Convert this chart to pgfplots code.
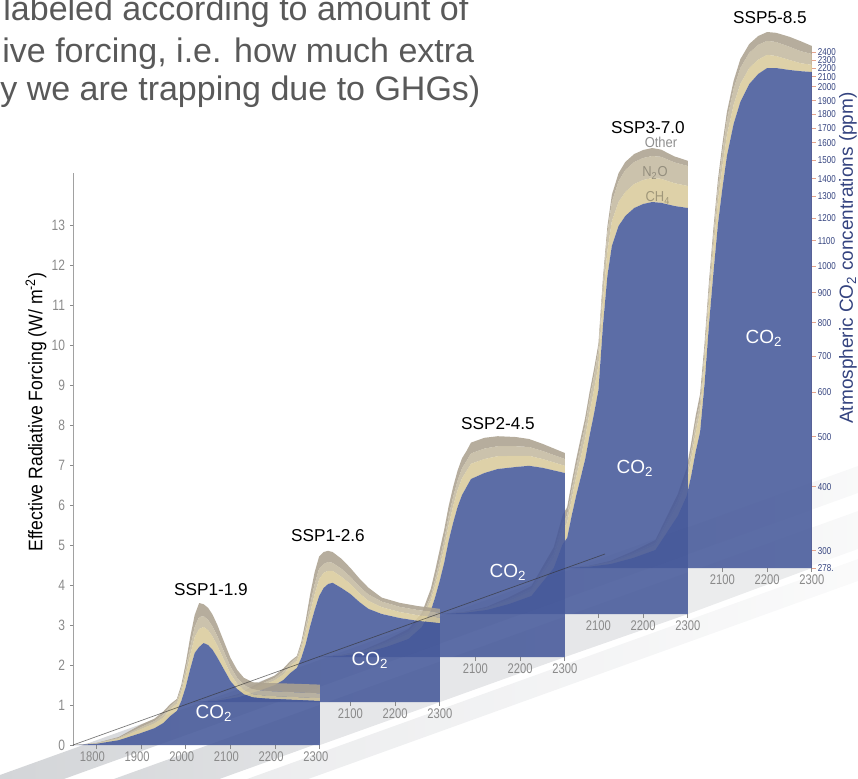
\documentclass[border=0pt]{standalone}
\usepackage{pgfplots}
\pgfplotsset{compat=1.18}
\usepackage{pgfplotstable}
\usepackage{fontspec}
\setmainfont{Liberation Sans}
\newfontfamily\narrow[FakeStretch=0.8]{Liberation Sans}
\newfontfamily\semi[FakeStretch=0.9]{Liberation Sans}

\definecolor{coblue}{HTML}{46599A}
\definecolor{chtan}{HTML}{D9CB9C}
\definecolor{ntwo}{HTML}{C4BAA0}
\definecolor{othr}{HTML}{ACA290}
\definecolor{tickgrey}{HTML}{8A8A8A}
\definecolor{titlegrey}{HTML}{595959}
\definecolor{navy}{HTML}{34437F}
\definecolor{ppmtick}{HTML}{E5A48C}
\definecolor{floorA}{HTML}{E6E7E9}
\definecolor{floorB}{HTML}{D3D5D8}
\definecolor{otherlab}{HTML}{8F8F8F}
\definecolor{ntwolab}{HTML}{948E7E}
\definecolor{chlab}{HTML}{A0977A}

% layers: CO2 and the thickness of the CH4, N2O and other bands (W m-2)
\pgfplotstableread{
year co2 ch4 n2o oth
1750 0 0 0 0
1800 0.03 0.01 0.005 0.005
1850 0.12 0.04 0.02 0.02
1900 0.3 0.1 0.05 0.06
1930 0.42 0.12 0.06 0.06
1950 0.55 0.14 0.07 0.08
1965 0.72 0.17 0.08 0.05
1980 0.85 0.18 0.08 0.04
1990 1.1 0.22 0.1 0.08
2000 1.45 0.3 0.15 0.15
2010 1.9 0.35 0.2 0.25
2020 2.3 0.4 0.25 0.3
2030 2.45 0.45 0.3 0.35
2040 2.55 0.4 0.27 0.3
2050 2.5 0.37 0.26 0.3
2060 2.38 0.33 0.25 0.3
2070 2.2 0.3 0.24 0.28
2080 2.0 0.26 0.22 0.26
2090 1.8 0.22 0.2 0.24
2100 1.6 0.18 0.18 0.22
2115 1.4 0.13 0.15 0.2
2130 1.27 0.1 0.13 0.18
2150 1.19 0.08 0.12 0.18
2180 1.16 0.07 0.12 0.2
2220 1.14 0.07 0.12 0.21
2300 1.1 0.07 0.12 0.22
}\sspA

\pgfplotstableread{
year co2 ch4 n2o oth
1750 0 0 0 0
1800 0.03 0.01 0.005 0.005
1850 0.12 0.04 0.02 0.02
1900 0.3 0.1 0.05 0.06
1930 0.42 0.12 0.06 0.06
1950 0.55 0.14 0.07 0.08
1965 0.72 0.17 0.08 0.05
1980 0.85 0.18 0.08 0.04
1990 1.1 0.22 0.1 0.08
2000 1.45 0.3 0.15 0.15
2010 1.9 0.35 0.2 0.25
2020 2.3 0.4 0.25 0.3
2030 2.65 0.42 0.27 0.3
2040 2.85 0.38 0.22 0.3
2050 2.95 0.33 0.22 0.28
2060 2.98 0.3 0.2 0.27
2080 2.85 0.28 0.2 0.25
2100 2.7 0.25 0.18 0.22
2120 2.5 0.22 0.17 0.2
2140 2.33 0.2 0.16 0.17
2170 2.2 0.17 0.14 0.1
2210 2.1 0.15 0.13 0.1
2250 2.03 0.14 0.13 0.1
2300 1.97 0.14 0.12 0.1
}\sspB

\pgfplotstableread{
year co2 ch4 n2o oth
1750 0 0 0 0
1800 0.03 0.01 0.005 0.005
1850 0.1 0.04 0.02 0.02
1900 0.25 0.08 0.04 0.05
1950 0.45 0.12 0.06 0.07
1980 0.75 0.17 0.08 0.1
2000 1.15 0.25 0.12 0.18
2010 1.5 0.3 0.15 0.22
2020 1.9 0.35 0.18 0.25
2030 2.35 0.38 0.2 0.25
2040 2.9 0.4 0.22 0.25
2050 3.35 0.42 0.23 0.25
2060 3.75 0.42 0.24 0.25
2070 4.05 0.42 0.25 0.25
2080 4.25 0.4 0.25 0.25
2090 4.45 0.38 0.26 0.27
2100 4.5 0.37 0.26 0.27
2120 4.6 0.35 0.26 0.27
2150 4.7 0.32 0.25 0.25
2190 4.75 0.28 0.24 0.23
2220 4.78 0.25 0.22 0.2
2250 4.73 0.22 0.2 0.18
2300 4.6 0.18 0.17 0.15
}\sspC

\pgfplotstableread{
year co2 ch4 n2o oth
1750 0 0 0 0
1800 0.03 0.01 0.005 0.005
1850 0.1 0.04 0.02 0.02
1900 0.25 0.08 0.04 0.05
1950 0.45 0.12 0.06 0.07
2000 1.15 0.25 0.12 0.15
2020 1.75 0.35 0.18 0.2
2030 1.9 0.38 0.19 0.2
2040 2.45 0.42 0.22 0.2
2050 2.95 0.46 0.25 0.2
2060 3.4 0.5 0.28 0.2
2070 3.85 0.54 0.3 0.2
2080 4.45 0.58 0.33 0.18
2090 5.0 0.6 0.35 0.17
2100 5.6 0.62 0.38 0.16
2110 7.2 0.63 0.4 0.16
2120 8.45 0.63 0.44 0.17
2130 9.2 0.62 0.48 0.18
2145 9.7 0.6 0.52 0.2
2160 9.95 0.6 0.55 0.2
2180 10.15 0.6 0.55 0.2
2200 10.25 0.6 0.55 0.2
2220 10.3 0.6 0.55 0.2
2240 10.28 0.6 0.55 0.18
2270 10.2 0.57 0.52 0.15
2300 10.15 0.55 0.5 0.13
}\sspD

\pgfplotstableread{
year co2 ch4 n2o oth
1750 0 0 0 0
1800 0.03 0.01 0.005 0.005
1850 0.1 0.04 0.02 0.02
1900 0.25 0.08 0.04 0.05
1950 0.45 0.12 0.06 0.07
2000 1.3 0.28 0.12 0.15
2020 1.8 0.35 0.17 0.18
2030 2.3 0.42 0.2 0.2
2040 2.9 0.48 0.22 0.2
2050 3.4 0.5 0.25 0.2
2060 4.6 0.55 0.27 0.2
2070 6.1 0.58 0.3 0.2
2080 7.4 0.6 0.32 0.2
2090 8.6 0.58 0.34 0.2
2100 9.5 0.55 0.36 0.2
2110 10.3 0.52 0.38 0.2
2125 11.1 0.48 0.4 0.2
2140 11.65 0.45 0.4 0.22
2160 12.1 0.4 0.38 0.22
2180 12.35 0.36 0.37 0.22
2200 12.5 0.33 0.35 0.22
2220 12.5 0.3 0.35 0.23
2250 12.45 0.25 0.33 0.25
2275 12.42 0.2 0.3 0.25
2300 12.4 0.18 0.27 0.2
}\sspE

% one panel = four stacked layers drawn from a table
\newcommand\layers[1]{%
  \addplot[draw=none, fill=coblue, fill opacity=0.88] table[x=year,y=co2]{#1} \closedcycle;
  \addplot[draw=none, fill=chtan, fill opacity=0.88] table[x=year,y=ch4]{#1} \closedcycle;
  \addplot[draw=none, fill=ntwo, fill opacity=0.88] table[x=year,y=n2o]{#1} \closedcycle;
  \addplot[draw=none, fill=othr, fill opacity=0.88] table[x=year,y=oth]{#1} \closedcycle;
}

\def\u{0.5pt}
\pgfplotsset{
  panel/.style={
    anchor=south west, scale only axis,
    x=0.447*\u, y=40*\u,
    xmin=1750, xmax=2300, ymin=0, ymax=14,
    clip=false, stack plots=y,
    axis x line*=bottom,
    x axis line style={draw=none},
    xtick={2100,2200,2300},
    x tick label style={font=\narrow\fontsize{7}{8}\selectfont, text=tickgrey, yshift=2pt},
    major tick length=2pt,
    tick style={tickgrey, line width=0.4pt},
    xtick pos=bottom, xtick align=outside,
    /pgf/number format/assume math mode=true,
    /pgf/number format/1000 sep={},
  },
}

\begin{document}
\begin{tikzpicture}
\path[use as bounding box] (0,0) rectangle (858*\u,-778*\u);
\clip (0,0) rectangle (858*\u,-778*\u);

\begin{scope}[x=\u, y=-\u]
  % perspective floor strips under the panels
  \shade[left color=floorB, right color=floorA!25] (0,775) -- (858,466) -- (858,493) -- (0,802) -- cycle;
  \shade[left color=floorB, right color=floorA!25] (0,820) -- (858,511) -- (858,549) -- (0,858) -- cycle;
  \shade[left color=floorA, right color=floorA!20] (0,868) -- (858,559) -- (858,581) -- (0,890) -- cycle;
  \fill[floorA] (320,702) -- (440,702) -- (320,745) -- cycle;
  \fill[floorA] (440,657) -- (565,657) -- (440,702) -- cycle;
  \fill[floorA] (565,614) -- (688,614) -- (565,657) -- cycle;
  \fill[floorA!80] (688,568) -- (812,568) -- (688,614) -- cycle;
\end{scope}

% SSP5-8.5, with the CO2 concentration axis on its right edge
\begin{axis}[panel, at={(566*\u,-568*\u)},
  ymax=12.9,
  axis y line*=right,
  y axis line style={ppmtick, line width=0.4pt},
  ytick={0,0.43,2.03,3.28,4.4,5.3,6.13,6.88,7.55,8.18,8.75,9.3,9.73,10.2,10.63,11.0,11.35,11.68,12.03,12.28,12.5,12.7,12.9},
  yticklabels={278.,300,400,500,600,700,800,900,1000,1100,1200,1300,1400,1500,1600,1700,1800,1900,2000,2100,2200,2300,2400},
  y tick label style={font=\narrow\fontsize{5}{5}\selectfont, text=navy, xshift=-2.5pt},
  ytick style={ppmtick, line width=0.4pt},
  ytick align=outside, ytick pos=right,
]
\layers{\sspE}
\end{axis}

\begin{axis}[panel, hide y axis, at={(442*\u,-614*\u)}]
\layers{\sspD}
\end{axis}

\begin{axis}[panel, hide y axis, at={(319*\u,-657*\u)}]
\layers{\sspC}
\end{axis}

\begin{axis}[panel, hide y axis, at={(194*\u,-702*\u)}]
\layers{\sspB}
\end{axis}

% SSP1-1.9 with the forcing axis
\begin{axis}[panel, at={(74*\u,-745*\u)},
  ymax=14.3,
  axis y line*=left,
  y axis line style={tickgrey!80, line width=0.5pt},
  ytick={0,1,...,13},
  y tick label style={font=\narrow\fontsize{7.5}{8}\selectfont, text=tickgrey, xshift=1pt},
  ytick align=outside, ytick pos=left,
  xtick={1800,1900,...,2300},
  x tick label style={xshift=-2pt},
]
\layers{\sspA}
\end{axis}

\begin{scope}[x=\u, y=-\u]
  \draw[black!80, line width=0.35pt, opacity=0.65] (73,745) -- (605,554);

  \node[font=\fontsize{8.6}{10}\selectfont] at (211,590) {SSP1-1.9};
  \node[font=\fontsize{8.6}{10}\selectfont] at (328,536) {SSP1-2.6};
  \node[font=\fontsize{8.6}{10}\selectfont] at (498,424) {SSP2-4.5};
  \node[font=\fontsize{8.6}{10}\selectfont] at (648,128) {SSP3-7.0};
  \node[font=\fontsize{8.6}{10}\selectfont] at (770,18) {SSP5-8.5};

  \node[font=\semi\fontsize{7.2}{8}\selectfont, text=otherlab] at (661,142) {Other};
  \node[font=\semi\fontsize{7.2}{8}\selectfont, text=ntwolab] at (655,173) {N\textsubscript{2}O};
  \node[font=\semi\fontsize{7.2}{8}\selectfont, text=chlab] at (658,198) {CH\textsubscript{4}};

  \foreach \x/\y in {214/713, 370/660, 508/572, 635/468, 764/338}
    \node[font=\fontsize{9.5}{11}\selectfont, text=white] at (\x,\y) {CO\textsubscript{2}};

  \node[rotate=90, font=\semi\fontsize{9.8}{11}\selectfont] at (36,412) {Effective Radiative Forcing (W/ m\textsuperscript{-2})};
  \node[rotate=90, font=\fontsize{9.5}{11}\selectfont, text=navy] at (848,258) {Atmospheric CO\textsubscript{2} concentrations (ppm)};

  \node[anchor=base west, font=\fontsize{17}{20}\selectfont, text=titlegrey, inner sep=0] at (3,20) {labeled according to amount of};
  \node[anchor=base west, font=\fontsize{17}{20}\selectfont, text=titlegrey, inner sep=0] at (2,62) {ive forcing, i.e. how much extra};
  \node[anchor=base west, font=\fontsize{17}{20}\selectfont, text=titlegrey, inner sep=0] at (0,100) {y we are trapping due to GHGs)};
\end{scope}
\end{tikzpicture}
\end{document}
